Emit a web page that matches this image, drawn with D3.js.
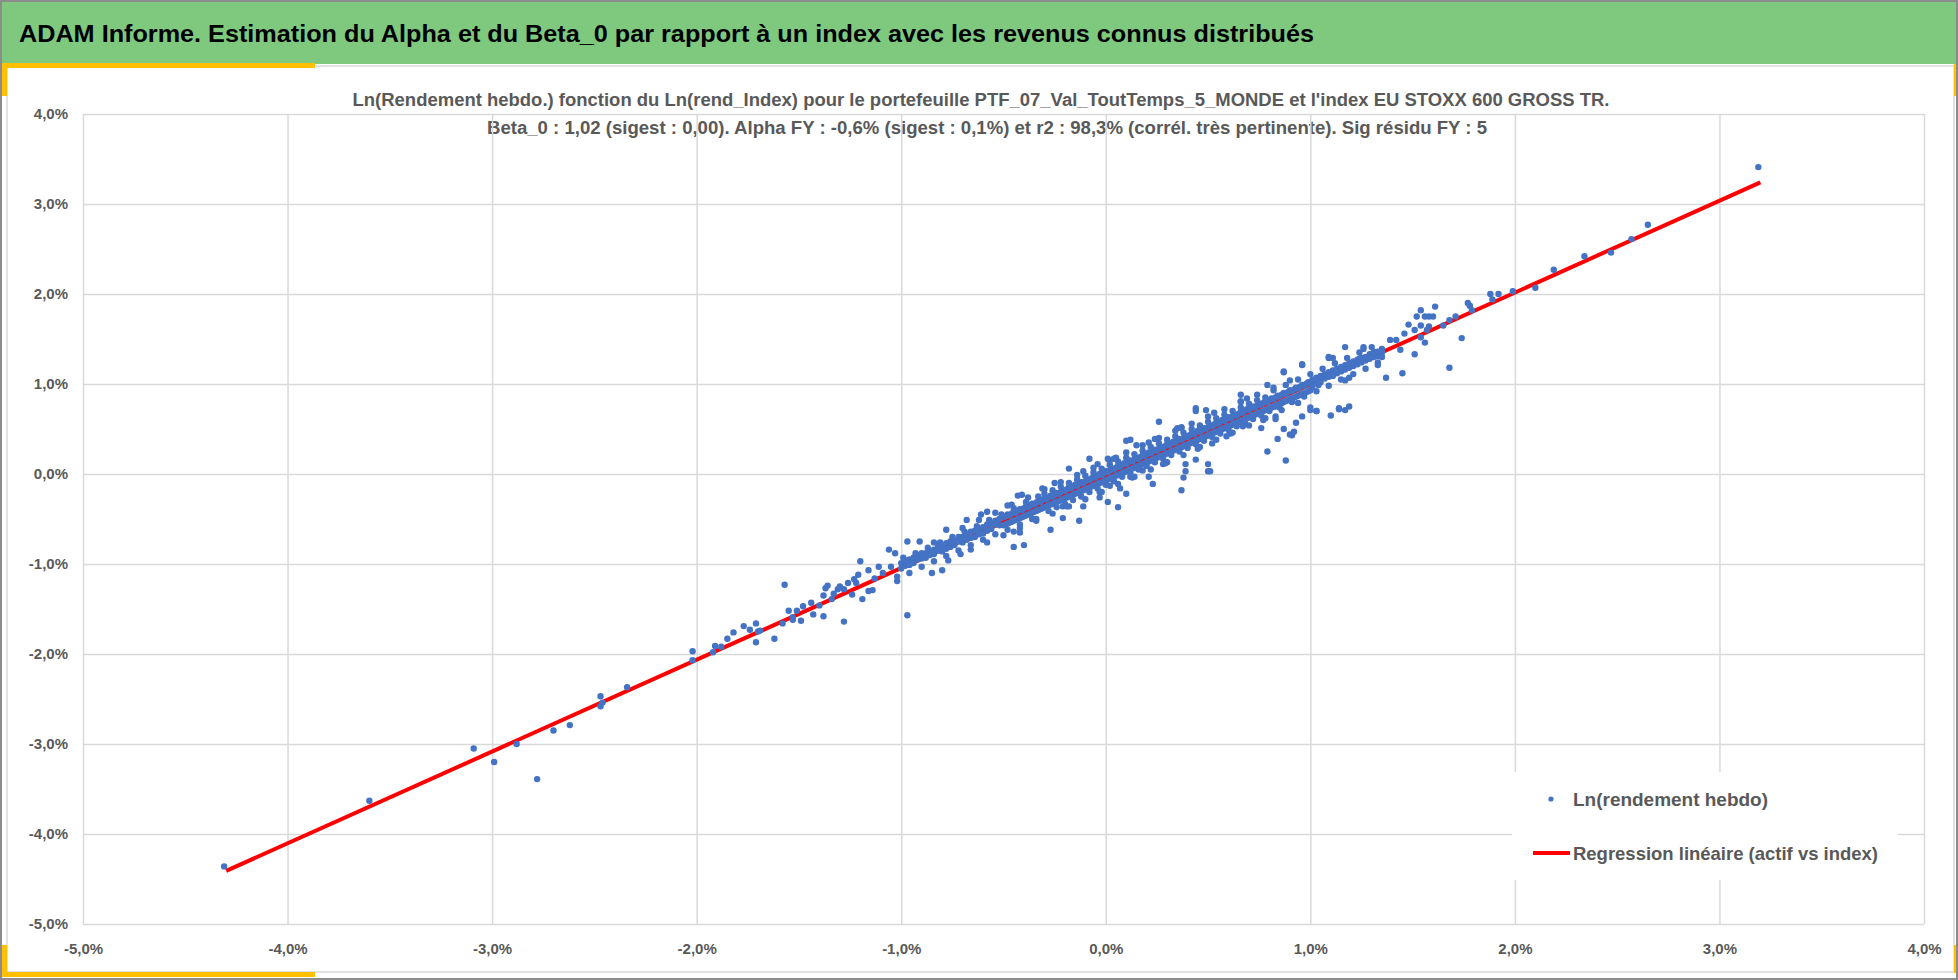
<!DOCTYPE html>
<html><head><meta charset="utf-8">
<script src="https://cdn.jsdelivr.net/npm/d3@7"></script>
<style>
html,body{margin:0;padding:0;background:#fff;}
svg{display:block;}
text{font-family:"Liberation Sans",Arial,sans-serif;}
</style></head>
<body>
<svg id="c" width="1958" height="980"></svg>
<script>
// ---------- texts ----------
const headerTitle = "ADAM Informe. Estimation du Alpha et du Beta_0 par rapport à un index avec les revenus connus distribués";
const subTitle1 = "Ln(Rendement hebdo.) fonction du Ln(rend_Index) pour le portefeuille PTF_07_Val_ToutTemps_5_MONDE et l'index EU STOXX 600 GROSS TR.";
const subTitle2 = "Beta_0 : 1,02 (sigest : 0,00).  Alpha FY : -0,6% (sigest : 0,1%) et r2 : 98,3% (corrél. très pertinente). Sig résidu FY : 5";
const seriesNames = ["Ln(rendement hebdo)", "Regression linéaire (actif vs index)"];

// ---------- axes ----------
const xTicks = [-5,-4,-3,-2,-1,0,1,2,3,4];
const yTicks = [-5,-4,-3,-2,-1,0,1,2,3,4];

// ---------- regression line (index %, portfolio %) ----------
const regLine = [[-4.30,-4.41],[3.20,3.24]];

// ---------- isolated weekly points (index %, portfolio %) ----------
const outlierPts = [
 [-4.31,-4.36],[-3.60,-3.63],[-3.09,-3.05],[-2.99,-3.20],[-2.88,-3.00],[-2.78,-3.39],
 [-2.70,-2.85],[-2.62,-2.79],[-2.47,-2.47],[-2.47,-2.58],[-2.46,-2.54],[-2.34,-2.37],
 [-2.02,-1.97],[-2.02,-2.07],[-1.92,-1.98],[-1.91,-1.91],[-1.88,-1.92],[-1.85,-1.83],
 [-1.82,-1.76],[-1.77,-1.69],[-1.74,-1.73],[-1.71,-1.66],[-1.71,-1.87],[-1.70,-1.75],
 [-1.69,-1.74],[-1.62,-1.83],[-1.58,-1.66],[-1.57,-1.23],[-1.55,-1.52],[-1.53,-1.62],
 [-1.53,-1.59],[-1.51,-1.52],[-1.49,-1.63],[-1.48,-1.47],[-1.44,-1.43],[-1.43,-1.56],
 [-1.40,-1.46],[-1.38,-1.58],[-1.38,-1.35],[-1.37,-1.27],[-1.36,-1.24],[-1.34,-1.39],
 [-1.33,-1.33],[-1.31,-1.28],[-1.30,-1.25],[-1.28,-1.64],[-1.28,-1.28],[-1.26,-1.21],
 [-1.24,-1.34],[-1.23,-1.17],[-1.22,-1.21],[-1.21,-1.12],[-1.20,-0.97],[-1.19,-1.39],
 [-1.16,-1.07],[-1.16,-1.30],[-1.14,-1.29],[-1.13,-1.16],[-1.11,-1.03],[-1.09,-1.10],
 [-1.06,-0.84],[-1.05,-1.03],[-1.03,-0.88],[-1.02,-1.19],[-1.02,-1.14],[-0.97,-1.57],
 [-0.97,-0.75],[-0.91,-0.75],[-0.85,-1.10],[-0.84,-0.76],[-0.80,-1.07],[-0.78,-0.62],
 [-0.77,-0.96],[-0.71,-0.89],[-0.68,-0.51],[-0.61,-0.45],[-0.58,-0.42],[-0.48,-0.35],
 [-0.45,-0.81],[-0.40,-0.79],[-0.45,-0.64],[-0.42,-0.65],[-0.43,-0.24],[-0.41,-0.23],
 [-0.34,-0.50],[-0.31,-0.16],[-0.27,-0.62],[-0.21,-0.49],[-0.21,-0.36],[-0.18,0.06],
 [-0.13,-0.52],[-0.11,-0.36],[-0.08,0.17],[-0.04,0.11],[-0.03,-0.26],[0.01,-0.31],
 [0.01,0.17],[0.04,0.17],[0.06,-0.37],[0.10,-0.22],[0.07,-0.16],[0.02,-0.13],
 [0.10,0.37],[0.12,0.38],[0.12,-0.03],[0.15,0.32],[0.18,0.04],[0.21,-0.03],
 [0.23,-0.11],[0.24,0.39],[0.26,0.58],[0.28,0.11],[0.35,0.51],[0.37,0.51],
 [0.37,-0.18],[0.38,-0.04],[0.39,0.03],[0.39,0.11],[0.44,0.16],[0.44,0.73],
 [0.44,0.70],[0.49,0.71],[0.50,0.11],[0.50,0.03],[0.51,0.03],[0.52,0.34],
 [0.59,0.42],[0.66,0.88],[0.66,0.81],[0.67,0.53],[0.76,0.51],[0.79,0.25],
 [0.79,0.99],[0.83,0.61],[0.83,0.64],[0.83,0.75],[0.84,0.39],[0.87,0.50],
 [0.87,1.13],[0.88,0.15],[0.91,0.43],[0.92,0.47],[0.93,0.57],[0.96,0.64],
 [0.96,1.21],[0.87,1.14],[0.90,0.44],[0.96,1.22],[1.00,0.74],[1.00,0.71],
 [1.03,0.70],[1.03,0.70],[1.04,0.99],[1.09,1.30],[1.10,0.65],[1.14,0.73],
 [1.14,0.72],[1.17,0.71],[1.17,1.04],[1.19,0.75],[1.19,1.07],[1.17,1.41],
 [1.09,1.29],[1.11,1.29],[1.24,1.28],[1.26,1.41],[1.26,1.39],[1.31,1.36],
 [1.33,1.21],[1.35,1.30],[1.37,1.07],[1.39,1.49],[1.42,1.49],[1.44,1.38],
 [1.45,1.12],[1.46,1.56],[1.48,1.66],[1.51,1.60],[1.51,1.33],[1.52,1.75],
 [1.54,1.52],[1.54,1.82],[1.54,1.65],[1.56,1.46],[1.56,1.75],[1.57,1.60],
 [1.58,1.64],[1.58,1.75],[1.60,1.75],[1.61,1.86],[1.65,1.65],[1.68,1.71],
 [1.68,1.18],[1.71,1.75],[1.74,1.51],[1.77,1.90],[1.78,1.87],[1.79,1.82],
 [1.88,2.00],[1.89,1.94],[1.92,2.00],[1.99,2.03],[2.10,2.07],[2.19,2.27],
 [2.34,2.42],[2.47,2.46],[2.57,2.61],[2.65,2.77],[3.19,3.41]
];

// ---------- dense band of weekly points: [index %, portfolio %, portfolio %] ----------
const bandRows = [
 [-1.00,-1.05,-0.99],[-0.98,-1.02,-0.96],[-0.96,-1.01,-0.95],[-0.94,-0.93,-0.99],
 [-0.92,-0.95,-0.90],[-0.90,-0.94,-0.88],[-0.88,-0.88,-0.93],[-0.86,-0.86,-0.90],
 [-0.84,-0.84,-0.89],[-0.82,-0.85,-0.80],[-0.80,-0.86,-0.80],[-0.78,-0.83,-0.77],
 [-0.76,-0.81,-0.75],[-0.74,-0.74,-0.79],[-0.72,-0.75,-0.70],[-0.70,-0.76,-0.70],
 [-0.68,-0.73,-0.67],[-0.66,-0.71,-0.64],[-0.64,-0.70,-0.63],[-0.62,-0.67,-0.61],
 [-0.60,-0.66,-0.59],[-0.58,-0.63,-0.56],[-0.56,-0.55,-0.61],[-0.54,-0.56,-0.52],
 [-0.52,-0.57,-0.50],
 [-0.50,-0.48,-0.57],[-0.49,-0.47,-0.56],[-0.48,-0.45,-0.55],[-0.47,-0.46,-0.54],
 [-0.46,-0.44,-0.53],[-0.45,-0.42,-0.52],[-0.44,-0.43,-0.51],[-0.43,-0.41,-0.50],
 [-0.42,-0.39,-0.49],[-0.41,-0.40,-0.48],[-0.40,-0.38,-0.47],[-0.39,-0.36,-0.46],
 [-0.38,-0.37,-0.45],[-0.37,-0.35,-0.44],[-0.36,-0.33,-0.43],[-0.35,-0.34,-0.42],
 [-0.34,-0.32,-0.41],[-0.33,-0.30,-0.40],[-0.32,-0.31,-0.39],[-0.31,-0.29,-0.38],
 [-0.30,-0.27,-0.37],[-0.29,-0.28,-0.36],[-0.28,-0.26,-0.35],[-0.27,-0.24,-0.34],
 [-0.26,-0.25,-0.33],[-0.25,-0.23,-0.32],[-0.24,-0.21,-0.31],[-0.23,-0.22,-0.30],
 [-0.22,-0.20,-0.29],[-0.21,-0.18,-0.28],[-0.20,-0.19,-0.27],[-0.19,-0.17,-0.26],
 [-0.18,-0.15,-0.25],[-0.17,-0.16,-0.24],[-0.16,-0.14,-0.23],[-0.15,-0.12,-0.22],
 [-0.14,-0.13,-0.21],[-0.13,-0.11,-0.20],[-0.12,-0.09,-0.19],[-0.11,-0.10,-0.18],
 [-0.10,-0.08,-0.17],[-0.09,-0.06,-0.16],[-0.08,-0.07,-0.15],[-0.07,-0.05,-0.14],
 [-0.06,-0.03,-0.13],[-0.05,-0.04,-0.12],[-0.04,-0.02,-0.11],[-0.03,0.00,-0.10],
 [-0.02,-0.01,-0.09],[-0.01,0.01,-0.08],[0.00,0.03,-0.07],[0.01,0.02,-0.06],
 [0.02,0.04,-0.05],[0.03,0.06,-0.04],[0.04,0.05,-0.03],[0.05,0.07,-0.02],
 [0.06,0.09,-0.01],[0.07,0.08,0.00],[0.08,0.10,0.01],[0.09,0.12,0.02],
 [0.10,0.11,0.03],[0.11,0.13,0.04],[0.12,0.15,0.05],[0.13,0.14,0.06],
 [0.14,0.16,0.07],[0.15,0.18,0.08],[0.16,0.17,0.09],[0.17,0.19,0.10],
 [0.18,0.21,0.11],[0.19,0.20,0.12],[0.20,0.22,0.13],[0.21,0.24,0.14],
 [0.22,0.23,0.15],[0.23,0.25,0.16],[0.24,0.27,0.17],[0.25,0.26,0.18],
 [0.26,0.28,0.19],[0.27,0.30,0.20],[0.28,0.29,0.21],[0.29,0.31,0.22],
 [0.30,0.33,0.23],[0.31,0.32,0.24],[0.32,0.34,0.25],[0.33,0.36,0.26],
 [0.34,0.35,0.27],[0.35,0.37,0.28],[0.36,0.39,0.29],[0.37,0.38,0.30],
 [0.38,0.40,0.31],[0.39,0.42,0.32],[0.40,0.41,0.33],[0.41,0.43,0.34],
 [0.42,0.45,0.35],[0.43,0.44,0.36],[0.44,0.46,0.37],[0.45,0.48,0.38],
 [0.46,0.47,0.39],[0.47,0.49,0.40],[0.48,0.51,0.41],[0.49,0.50,0.42],
 [0.50,0.52,0.43],[0.51,0.54,0.44],[0.52,0.53,0.45],[0.53,0.55,0.46],
 [0.54,0.57,0.47],[0.55,0.56,0.48],[0.56,0.58,0.49],[0.57,0.60,0.50],
 [0.58,0.59,0.51],[0.59,0.61,0.52],[0.60,0.63,0.53],[0.61,0.62,0.54],
 [0.62,0.64,0.55],[0.63,0.66,0.56],[0.64,0.65,0.57],[0.65,0.67,0.58],
 [0.66,0.69,0.59],[0.67,0.68,0.60],[0.68,0.70,0.61],[0.69,0.72,0.62],
 [0.70,0.71,0.63],[0.71,0.73,0.64],[0.72,0.75,0.65],[0.73,0.74,0.66],
 [0.74,0.76,0.67],[0.75,0.78,0.68],[0.76,0.77,0.69],[0.77,0.79,0.70],
 [0.78,0.81,0.71],[0.79,0.80,0.72],[0.80,0.82,0.73],[0.81,0.84,0.74],
 [0.82,0.83,0.75],[0.83,0.85,0.76],[0.84,0.87,0.77],[0.85,0.86,0.78],
 [0.86,0.88,0.79],[0.87,0.90,0.80],[0.88,0.89,0.81],[0.89,0.91,0.82],
 [0.90,0.93,0.83],[0.91,0.92,0.84],[0.92,0.94,0.85],[0.93,0.96,0.86],
 [0.94,0.95,0.87],[0.95,0.97,0.88],[0.96,0.99,0.89],[0.97,0.98,0.90],
 [0.98,1.00,0.91],[0.99,1.02,0.92],[1.00,1.01,0.93],
 [1.01,1.05,0.97],[1.03,1.01,1.07],[1.05,1.09,1.02],[1.07,1.06,1.11],
 [1.09,1.13,1.08],[1.11,1.09,1.15],[1.13,1.17,1.12],[1.15,1.14,1.19],
 [1.17,1.21,1.16],[1.19,1.18,1.23],[1.21,1.25,1.20],[1.23,1.22,1.27],
 [1.25,1.29,1.24],[1.27,1.26,1.30],[1.29,1.33,1.28],[1.31,1.30,1.35],
 [1.33,1.36,1.31],[1.35,1.39,1.35]
];
const wideBand = [
 [-0.30,-0.22],[-0.28,-0.41],[-0.26,-0.18],[-0.24,-0.37],[-0.22,-0.14],[-0.20,-0.33],
 [-0.18,-0.10],[-0.16,-0.29],[-0.14,-0.06],[-0.12,-0.25],[-0.10,-0.02],[-0.08,-0.20],
 [-0.06,0.02],[-0.04,-0.16],[-0.02,0.06],[0.00,-0.12],[0.02,0.10],[0.04,-0.08],
 [0.06,0.14],[0.08,-0.03],[0.10,0.18],[0.12,0.01],[0.14,0.22],[0.16,0.05],
 [0.18,0.26],[0.20,0.09],[0.22,0.30],[0.24,0.13],[0.26,0.34],[0.28,0.17],
 [0.30,0.38],[0.32,0.21],[0.34,0.42],[0.36,0.25],[0.38,0.46],[0.40,0.29],
 [0.42,0.50],[0.44,0.33],[0.46,0.54],[0.48,0.37],[0.50,0.58],[0.52,0.41],
 [0.54,0.62],[0.56,0.45],[0.58,0.66],[0.60,0.49],[0.62,0.70],[0.64,0.53],
 [0.66,0.74],[0.68,0.57],[0.70,0.78],[0.72,0.61],[0.74,0.82],[0.76,0.65],
 [0.78,0.85],[0.80,0.70],
 [-0.99,-0.93],[-0.96,-1.10],[-0.93,-0.88],[-0.90,-1.03],[-0.87,-0.82],[-0.84,-0.97],
 [-0.81,-0.76],[-0.78,-0.91],[-0.75,-0.70],[-0.72,-0.85],[-0.69,-0.64],[-0.66,-0.79],
 [-0.63,-0.58],[-0.60,-0.73],[-0.57,-0.51],[-0.54,-0.67],[-0.51,-0.45],[-0.48,-0.62],
 [-0.45,-0.38],[-0.42,-0.56],[-0.39,-0.31],[-0.36,-0.50],[-0.33,-0.25],
 [0.82,0.93],[0.85,0.74],[0.88,0.99],[0.91,0.80],[0.94,1.05],[0.97,0.86],
 [1.00,1.11],[1.03,0.92],[1.06,1.17],[1.09,0.98],[1.12,1.23],[1.15,1.05],
 [1.18,1.29],[1.21,1.11],[1.24,1.35],[1.27,1.17],[1.30,1.41],[1.33,1.24],
 [-0.25,-0.10],[-0.19,-0.36],[-0.11,0.03],[-0.03,-0.20],[0.05,0.18],[0.13,-0.04],
 [0.21,0.35],[0.29,0.12],[0.37,0.52],[0.45,0.28],[0.53,0.68],[0.61,0.45],
 [0.69,0.84],[0.77,0.60],
 [-0.70,-0.60],[-0.66,-0.84],[-0.62,-0.51],[-0.58,-0.76],[-0.54,-0.43],[-0.50,-0.68],
 [-0.46,-0.34],[-0.42,-0.60],[-0.38,-0.26],[-0.34,-0.52],[-0.30,-0.17],[-0.26,-0.44],
 [-0.22,-0.09],[-0.18,-0.36],[-0.14,-0.01],[-0.10,-0.28],[-0.06,0.07],[-0.02,-0.20],
 [0.02,0.15],[0.06,-0.11],[0.10,0.24],[0.14,-0.03],[0.18,0.32],[0.22,0.05],
 [0.26,0.40],[0.30,0.13],[0.34,0.48],[0.38,0.21],[0.42,0.56],[0.46,0.30],
 [0.50,0.64],[0.54,0.38],[0.58,0.72],[0.62,0.46],[0.66,0.80],[0.70,0.54],
 [0.74,0.88],[0.78,0.62],[0.82,0.96],[0.86,0.71],[0.90,1.04],[0.94,0.79]
];

// ---------- colours ----------
const C = {green:"#7FC97F", yellow:"#FFC000", frame:"#8c8c8c", grid:"#d9d9d9",
           text:"#595959", dot:"#4472C4", reg:"#FF0000"};

// ---------- build ----------
const svg = d3.select("#c");
const W = 1958, H = 980;
const plot = {l:83, r:1924, t:114, b:924};
const x = d3.scaleLinear().domain([-5,4]).range([plot.l, plot.r]);
const y = d3.scaleLinear().domain([-5,4]).range([plot.b, plot.t]);
const fmt = d => d.toFixed(1).replace(".", ",") + "%";

svg.append("rect").attr("width",W).attr("height",H).attr("fill","#fff");

// chart area border
svg.append("rect").attr("x",7).attr("y",66).attr("width",1947).attr("height",906)
   .attr("fill","none").attr("stroke",C.grid).attr("stroke-width",1.5);

// header
svg.append("rect").attr("x",0).attr("y",0).attr("width",W).attr("height",64).attr("fill",C.green);
svg.append("text").attr("x",19).attr("y",33).attr("dy","0.36em")
   .attr("font-size",24).attr("font-weight","bold").attr("fill","#000")
   .attr("textLength",1295).attr("lengthAdjust","spacingAndGlyphs").text(headerTitle);

// yellow accents
const yel = [[0,63,315,5],[0,63,7,33],[0,972,315,5],[0,945,7,32],[1954,64,4,32],[1954,945,4,28]];
svg.selectAll("rect.yel").data(yel).join("rect").attr("class","yel")
   .attr("x",d=>d[0]).attr("y",d=>d[1]).attr("width",d=>d[2]).attr("height",d=>d[3]).attr("fill",C.yellow);

// outer frame
svg.append("rect").attr("x",1).attr("y",1).attr("width",W-2).attr("height",H-2)
   .attr("fill","none").attr("stroke",C.frame).attr("stroke-width",2);

// subtitles
svg.append("text").attr("x",981).attr("y",100).attr("dy","0.35em").attr("text-anchor","middle")
   .attr("font-size",18).attr("font-weight","bold").attr("fill",C.text)
   .attr("textLength",1257).attr("lengthAdjust","spacingAndGlyphs").text(subTitle1);
svg.append("text").attr("x",987).attr("y",128).attr("dy","0.35em").attr("text-anchor","middle")
   .attr("font-size",18).attr("font-weight","bold").attr("fill",C.text)
   .attr("textLength",1000).attr("lengthAdjust","spacingAndGlyphs").text(subTitle2);

// gridlines + tick labels
const gx = svg.append("g").attr("transform",`translate(0,${plot.b})`)
  .call(d3.axisBottom(x).tickValues(xTicks).tickSize(-(plot.b-plot.t)).tickFormat(fmt).tickPadding(19));
const gy = svg.append("g").attr("transform",`translate(${plot.l},0)`)
  .call(d3.axisLeft(y).tickValues(yTicks).tickSize(-(plot.r-plot.l)).tickFormat(fmt).tickPadding(15));
[gx,gy].forEach(g=>{
  g.select(".domain").remove();
  g.selectAll(".tick line").attr("stroke",C.grid).attr("stroke-width",1.5);
  g.selectAll(".tick text").attr("fill",C.text).attr("font-size",15).attr("font-weight","bold")
   .attr("font-family","'Liberation Sans',Arial,sans-serif");
});

// regression line (drawn under the points)
svg.append("path").datum(regLine)
   .attr("d", d3.line().x(d=>x(d[0])).y(d=>y(d[1])))
   .attr("stroke",C.reg).attr("stroke-width",4).attr("fill","none");

// points
const pts = [];
bandRows.forEach(r => { for (let i=1;i<r.length;i++) pts.push([r[0], r[i]]); });
wideBand.forEach(p => pts.push(p));
outlierPts.forEach(p => pts.push(p));
svg.append("g").selectAll("circle").data(pts).join("circle")
   .attr("cx",d=>x(d[0])).attr("cy",d=>y(d[1])).attr("r",3.2).attr("fill",C.dot);

// legend
const lg = svg.append("g");
lg.append("rect").attr("x",1512).attr("y",772).attr("width",386).attr("height",108).attr("fill","#fff");
lg.append("circle").attr("cx",1551).attr("cy",799).attr("r",2.6).attr("fill",C.dot);
lg.append("text").attr("x",1573).attr("y",799).attr("dy","0.35em").attr("font-size",19)
  .attr("font-weight","bold").attr("fill",C.text)
  .attr("textLength",195).attr("lengthAdjust","spacingAndGlyphs").text(seriesNames[0]);
lg.append("line").attr("x1",1533).attr("x2",1570).attr("y1",853).attr("y2",853)
  .attr("stroke",C.reg).attr("stroke-width",4);
lg.append("text").attr("x",1573).attr("y",853).attr("dy","0.35em").attr("font-size",19)
  .attr("font-weight","bold").attr("fill",C.text)
  .attr("textLength",305).attr("lengthAdjust","spacingAndGlyphs").text(seriesNames[1]);
</script>
</body></html>
